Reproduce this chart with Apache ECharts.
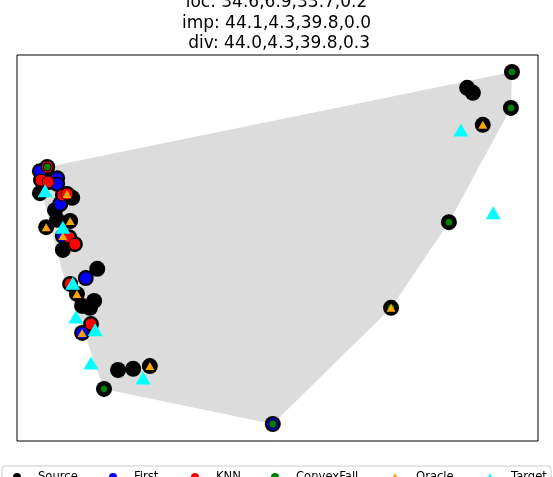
<!DOCTYPE html>
<html>
<head>
<meta charset="utf-8">
<script src="https://cdn.jsdelivr.net/npm/echarts@6/dist/echarts.min.js"></script>
<style>
  html, body { margin: 0; padding: 0; background: #fff; }
  #chart { width: 553px; height: 477px; }
</style>
</head>
<body>
<div id="chart"></div>
<script>
// title lines
const titleLines = [
  'loc: 34.6,6.9,33.7,0.2',
  'imp: 44.1,4.3,39.8,0.0',
  ' div: 44.0,4.3,39.8,0.3'
]

// points, axis units 0..10 (no ticks shown)
const source = [
  [9.50, 9.56], [8.64, 9.15], [8.75, 9.02], [9.48, 8.63], [8.94, 8.19], [8.29, 5.67],
  [7.18, 3.45], [4.91, 0.44], [1.67, 1.35], [1.94, 1.84], [2.23, 1.87], [2.55, 1.94],
  [1.54, 4.46], [1.32, 4.22], [1.02, 4.07], [1.15, 3.81], [1.25, 3.50], [1.48, 3.63],
  [1.40, 3.45], [1.42, 3.03], [1.25, 2.80],
  [0.58, 7.10], [0.44, 6.99], [0.77, 6.81], [0.46, 6.76], [0.60, 6.71], [0.77, 6.66],
  [0.44, 6.42], [0.88, 6.37], [0.96, 6.40], [0.83, 6.14], [1.06, 6.30], [0.73, 5.98],
  [0.77, 5.73], [1.02, 5.70], [0.56, 5.54], [0.88, 5.31], [1.00, 5.28], [1.11, 5.10],
  [0.88, 4.95]
]
const first = [
  [4.91, 0.44], [1.32, 4.22], [1.25, 2.80], [0.44, 6.99], [0.77, 6.81], [0.77, 6.66],
  [0.83, 6.14], [0.88, 5.31]
]
const knn = [
  [1.02, 4.07], [1.42, 3.03], [0.58, 7.10], [0.46, 6.76], [0.60, 6.71], [0.88, 6.37],
  [0.96, 6.40], [1.00, 5.28], [1.11, 5.10]
]
const convex = [
  [9.50, 9.56], [9.48, 8.63], [8.29, 5.67], [7.18, 3.45], [4.91, 0.44], [1.67, 1.35],
  [0.58, 7.10]
]
const oracle = [
  [8.94, 8.19], [7.18, 3.45], [2.55, 1.94], [1.15, 3.81], [1.25, 2.80], [0.96, 6.40],
  [1.02, 5.70], [0.56, 5.54], [0.88, 5.31]
]
const target = [
  [8.52, 8.06], [9.14, 5.91], [2.42, 1.63], [1.42, 2.02], [1.50, 2.88], [1.13, 3.21],
  [1.07, 4.09], [0.88, 5.54], [0.54, 6.48]
]
// hull outline (vertices)
const hull = [
  [0.58, 7.10], [9.50, 9.56], [9.48, 8.63], [8.29, 5.67], [7.18, 3.45], [4.91, 0.44],
  [1.67, 1.35], [0.86, 4.43], [0.44, 6.63]
]

const legendNames = ['Source', 'First', 'KNN', 'ConvexFall', 'Oracle', 'Target']
const legendX = [17, 113, 195, 275, 395, 490]

const chart = echarts.init(document.getElementById('chart'))

const legends = legendNames.map((name, i) => ({
  data: [{ name: name, itemStyle: { borderWidth: 0 } }],
  left: legendX[i] - 4,
  top: 471,
  itemWidth: 8,
  itemHeight: 8,
  padding: 0,
  textStyle: { fontSize: 11.6, color: '#000', fontFamily: 'DejaVu Sans', padding: [0, 0, 0, 12] }
}))

const option = {
  animation: false,
  textStyle: { fontFamily: 'DejaVu Sans' },
  title: {
    text: titleLines.join('\n'),
    left: 'center',
    top: -7.5,
    padding: 0,
    textStyle: { fontSize: 17, lineHeight: 20.4, fontWeight: 'normal', color: '#000', fontFamily: 'DejaVu Sans' }
  },
  graphic: [{
    type: 'rect',
    shape: { x: 2, y: 466, width: 549, height: 30, r: 3 },
    style: { fill: '#fff', stroke: '#cccccc', lineWidth: 1 },
    z: 0
  }],
  legend: legends,
  grid: {
    left: 17, top: 55, width: 521, height: 386,
    show: true, borderColor: '#000', borderWidth: 1, backgroundColor: 'transparent'
  },
  xAxis: {
    type: 'value', min: 0, max: 10,
    axisLine: { show: false }, axisTick: { show: false }, axisLabel: { show: false }, splitLine: { show: false }
  },
  yAxis: {
    type: 'value', min: 0, max: 10,
    axisLine: { show: false }, axisTick: { show: false }, axisLabel: { show: false }, splitLine: { show: false }
  },
  series: [
    {
      name: 'hull',
      type: 'custom',
      silent: true,
      z: 1,
      data: [hull[0]],
      renderItem: function (params, api) {
        const pts = hull.map(p => api.coord(p))
        return { type: 'polygon', shape: { points: pts }, style: { fill: '#dcdcdc' } }
      }
    },
    {
      name: 'Source', type: 'scatter', z: 2, data: source,
      symbol: 'circle', symbolSize: 16,
      itemStyle: { color: '#000', opacity: 1 }
    },
    {
      name: 'First', type: 'scatter', z: 3, data: first,
      symbol: 'circle', symbolSize: 13,
      itemStyle: { color: '#0000ff', borderColor: '#000', borderWidth: 1.5, opacity: 1 }
    },
    {
      name: 'KNN', type: 'scatter', z: 4, data: knn,
      symbol: 'circle', symbolSize: 12,
      itemStyle: { color: '#ff0000', borderColor: '#000', borderWidth: 1, opacity: 1 }
    },
    {
      name: 'ConvexFall', type: 'scatter', z: 5, data: convex,
      symbol: 'circle', symbolSize: 8,
      itemStyle: { color: '#008000', borderColor: '#000', borderWidth: 1, opacity: 1 }
    },
    {
      name: 'Oracle', type: 'scatter', z: 6, data: oracle,
      symbol: 'triangle', symbolSize: [9, 8],
      itemStyle: { color: '#ffa500', opacity: 1 }
    },
    {
      name: 'Target', type: 'scatter', z: 7, data: target,
      symbol: 'triangle', symbolSize: [15, 13],
      itemStyle: { color: '#00ffff', opacity: 1 }
    }
  ]
}

chart.setOption(option)
</script>
</body>
</html>
